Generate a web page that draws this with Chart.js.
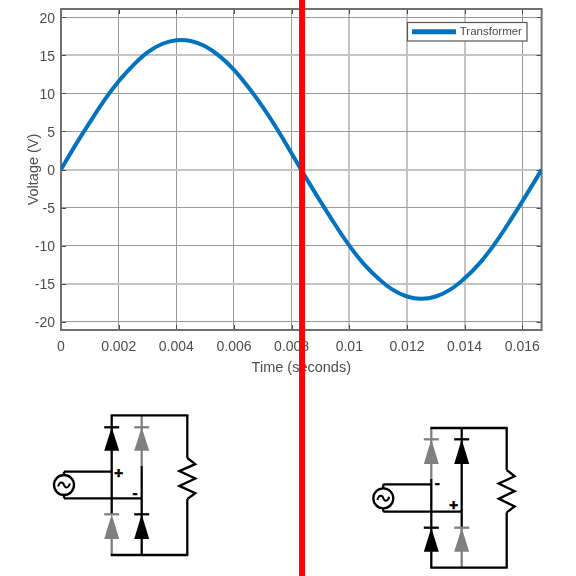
<!DOCTYPE html>
<html><head><meta charset="utf-8">
<style>html,body{margin:0;padding:0;background:#fff;width:576px;height:576px;overflow:hidden}
canvas,svg{position:absolute;left:0;top:0}</style>
<script src="https://cdn.jsdelivr.net/npm/chart.js@4"></script></head>
<body>
<svg id="circuits" width="576" height="576" xmlns="http://www.w3.org/2000/svg"></svg>
<canvas id="c" width="576" height="576" style="background:transparent"></canvas>
<script>
const seriesName = 'Transformer';
const timeSeconds = [0,0.0005,0.001,0.0015,0.002,0.0025,0.003,0.0035,0.004,0.0045,0.005,0.0055,0.006,0.0065,0.007,0.0075,0.008,0.0085,0.009,0.0095,0.01,0.0105,0.011,0.0115,0.012,0.0125,0.013,0.0135,0.014,0.0145,0.015,0.0155,0.016,0.0165,0.01667];
const voltage = [0,3.2,6.2,9.1,11.6,13.7,15.4,16.5,17,16.9,16.2,14.9,13.1,10.8,8.2,5.3,2.1,-1.1,-4.2,-7.2,-10,-12.4,-14.3,-15.8,-16.7,-17,-16.7,-15.8,-14.3,-12.4,-10,-7.2,-4.2,-1.1,0];
const xTicks = [0,0.002,0.004,0.006,0.008,0.01,0.012,0.014,0.016];
const yTicks = [20,15,10,5,0,-5,-10,-15,-20];
const xLimits = [0,0.01667];
const yLimits = [-21.1,21.1];
const markerTime = 0.00836;
/* resampled grid look: 1 = thin dark line, 2 = wide light line */
const xGridKind = [1,1,1,1,1,2,2,2,1];
const yGridKind = [1,2,1,1,2,1,1,2,1];

const TXT = '#4d4d4d', FONT = '"Liberation Sans", Arial, sans-serif';
const gridColor = k => k === 2 ? '#c4c4c4' : '#9a9a9a';
const gridWidth = k => k === 2 ? 2 : 1;

const framePlugin = {
  id: 'frame',
  beforeDraw(chart) {
    const L = chart.legend;
    L.left = 410; L.right = L.left + L.width; L.top = 22; L.bottom = L.top + L.height;
  },
  beforeDatasetsDraw(chart) {
    const {ctx, chartArea: a, scales: {x, y}} = chart;
    ctx.save();
    ctx.strokeStyle = '#4a4a4a'; ctx.lineWidth = 1;
    ctx.beginPath();
    xTicks.forEach(t => { const p = Math.round(x.getPixelForValue(t)) + .5;
      ctx.moveTo(p, a.top); ctx.lineTo(p, a.top + 5); ctx.moveTo(p, a.bottom); ctx.lineTo(p, a.bottom - 5); });
    yTicks.forEach(t => { const p = Math.round(y.getPixelForValue(t)) + .5;
      ctx.moveTo(a.left, p); ctx.lineTo(a.left + 5, p); ctx.moveTo(a.right, p); ctx.lineTo(a.right - 5, p); });
    ctx.stroke();
    ctx.strokeStyle = '#707070'; ctx.lineWidth = 2;
    ctx.strokeRect(a.left, a.top, a.right - a.left, a.bottom - a.top);
    ctx.restore();
  },
  afterDraw(chart) {
    const {ctx, scales: {x}} = chart, L = chart.legend;
    ctx.save();
    ctx.fillStyle = '#fff'; ctx.strokeStyle = '#555'; ctx.lineWidth = 1.2;
    ctx.fillRect(407.5, 22.5, 119.5, 18.5); ctx.strokeRect(407.5, 22.5, 119.5, 18.5);
    ctx.restore();
    L.draw();
    ctx.save();
    ctx.fillStyle = '#ff0000';
    ctx.fillRect(x.getPixelForValue(markerTime) - 3, 0, 6, chart.height);
    ctx.restore();
  }
};

new Chart(document.getElementById('c'), {
  type: 'scatter',
  data: { datasets: [{
    label: seriesName,
    data: timeSeconds.map((t, i) => ({x: t, y: voltage[i]})),
    showLine: true, borderColor: '#0072BD', backgroundColor: '#0072BD',
    borderWidth: 4, pointRadius: 0, tension: 0.4
  }]},
  options: {
    responsive: false, animation: false,
    layout: { padding: {left: 0, right: 34.4, top: 9, bottom: 199.5} },
    plugins: {
      tooltip: {enabled: false},
      legend: { position: 'chartArea', align: 'start',
        labels: { boxWidth: 40, boxHeight: 1, padding: 4, color: TXT, font: {family: FONT, size: 11.5} } }
    },
    scales: {
      x: { type: 'linear', min: xLimits[0], max: xLimits[1],
        afterBuildTicks: s => { s.ticks = xTicks.map(v => ({value: v})); },
        afterFit: s => { s.height = 46.5; s.paddingLeft = 0; s.paddingRight = 0; },
        ticks: { color: TXT, padding: 8.5, maxRotation: 0, autoSkip: false, font: {family: FONT, size: 14}, callback: v => String(v) },
        grid: { color: c => gridColor(xGridKind[c.index]), lineWidth: c => gridWidth(xGridKind[c.index]), drawTicks: false },
        border: {display: false},
        title: { display: true, text: 'Time (seconds)', color: TXT, font: {family: FONT, size: 14.5}, padding: {top: 0, bottom: 0} } },
      y: { type: 'linear', min: yLimits[0], max: yLimits[1],
        afterBuildTicks: s => { s.ticks = yTicks.map(v => ({value: v})); },
        afterFit: s => { s.width = 61; s.paddingTop = 0; s.paddingBottom = 0; },
        ticks: { color: TXT, padding: 6, labelOffset: 1.5, autoSkip: false, font: {family: FONT, size: 14}, callback: v => String(v) },
        grid: { color: c => gridColor(yGridKind[c.index]), lineWidth: c => gridWidth(yGridKind[c.index]), drawTicks: false },
        border: {display: false},
        title: { display: true, text: 'Voltage (V)', color: TXT, font: {family: FONT, size: 14.5}, padding: {top: 25, bottom: 0} } }
    }
  },
  plugins: [framePlugin]
});

/* Schematics beside the chart */
const BLACK = '#000', GREY = '#808080', W = 2.3;
function line(x1, y1, x2, y2, c) { return `<line x1="${x1}" y1="${y1}" x2="${x2}" y2="${y2}" stroke="${c}" stroke-width="${W}"/>`; }
function diode(x, yBar, yBase, c) {
  return `<path d="M${x} ${yBar}L${x + 7.5} ${yBase}H${x - 7.5}Z" fill="${c}"/>` +
         `<line x1="${x - 7.5}" y1="${yBar}" x2="${x + 7.5}" y2="${yBar}" stroke="${c}" stroke-width="${W}"/>`;
}
function resistor(x, y0, y1) {
  const d = (y1 - y0) / 5;
  return `<polyline fill="none" stroke="#000" stroke-width="${W}" points="${x},${y0} ${x + 8},${y0 + d * .75} ${x - 8},${y0 + d * 1.6} ${x + 8},${y0 + d * 2.5} ${x - 8},${y0 + d * 3.4} ${x + 8},${y0 + d * 4.3} ${x},${y1}"/>`;
}
function source(cx, cy) {
  return `<circle cx="${cx}" cy="${cy}" r="10" fill="#fff" stroke="#000" stroke-width="${W}"/>` +
         `<path d="M${cx - 6} ${cy + 1.5}C${cx - 4} ${cy - 4} ${cx - 1} ${cy - 3} ${cx} ${cy}S${cx + 4} ${cy + 4} ${cx + 6} ${cy - 1.5}" fill="none" stroke="#000" stroke-width="2"/>`;
}
function label(x, y, s) { return `<text x="${x}" y="${y}" text-anchor="middle" dominant-baseline="central" font-family="Liberation Sans" font-weight="bold" font-size="15" stroke="#000" stroke-width="0.7" fill="#000">${s}</text>`; }

let s = '';
/* left bridge */
s += line(111.7,539,111.7,555,GREY)+line(141.7,415,141.7,466,GREY);
s += line(111.7,415,111.7,514,BLACK)+line(141.7,466,141.7,555,BLACK);
s += line(110.7,415.3,188.3,415.3,BLACK)+line(187.3,415,187.3,458,BLACK)+line(187.3,499,187.3,555,BLACK)+line(110.7,555,188.3,555,BLACK);
s += resistor(187.3,458,499);
s += diode(111.7,427.3,450.7,BLACK)+diode(141.7,427.3,450.7,GREY)+diode(111.7,514.3,539,GREY)+diode(141.7,514.3,539,BLACK);
s += line(64,471.7,111.7,471.7,BLACK)+line(64,498.3,141.7,498.3,BLACK)+line(64,471.7,64,498.3,BLACK)+source(64,485);
s += label(118.7,472.5,'+')+label(135,492.5,'-');
/* right bridge */
s += line(431.3,428,431.3,479,GREY)+line(461.7,527,461.7,568,GREY);
s += line(431.3,479,431.3,568,BLACK)+line(461.7,428,461.7,527,BLACK);
s += line(430.3,428,507.7,428,BLACK)+line(506.7,428,506.7,470,BLACK)+line(506.7,512.3,506.7,567.7,BLACK)+line(430.3,567.7,507.7,567.7,BLACK);
s += resistor(506.7,470,512.3);
s += diode(431.3,439.3,464,GREY)+diode(461.7,439.3,464,BLACK)+diode(431.3,527.7,551.7,BLACK)+diode(461.7,527.7,551.7,GREY);
s += line(383.3,484.3,431.3,484.3,BLACK)+line(383.3,511.7,461.7,511.7,BLACK)+line(383.3,484.3,383.3,511.7,BLACK)+source(383.3,498.3);
s += label(437.3,482.5,'-')+label(453.7,504,'+');
document.getElementById('circuits').innerHTML = s;
</script>
</body></html>
